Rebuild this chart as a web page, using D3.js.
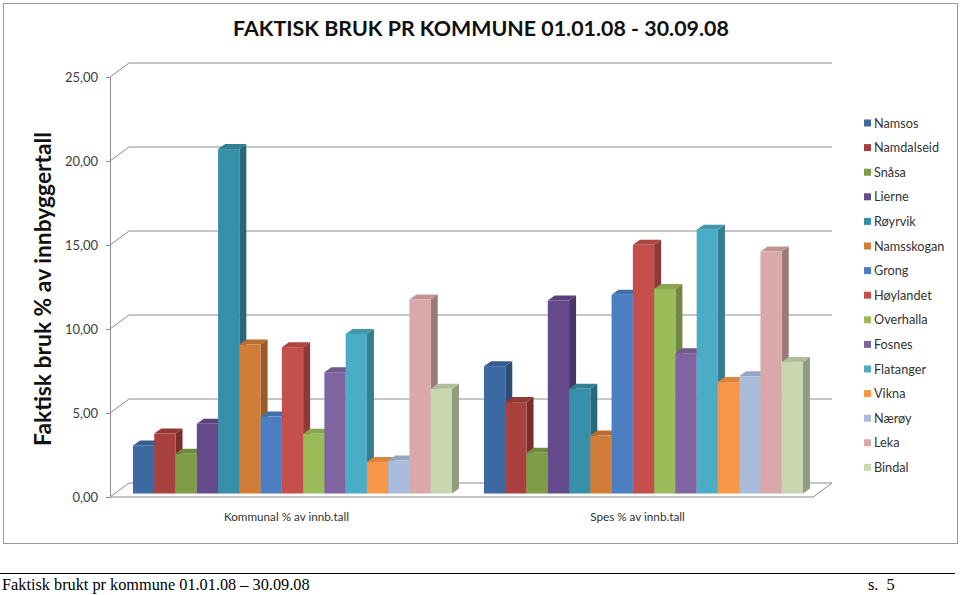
<!DOCTYPE html>
<html>
<head>
<meta charset="utf-8">
<script src="https://cdn.jsdelivr.net/npm/d3@7"></script>
<style>
  body { margin: 0; background: #fff; }
  svg { display: block; }
</style>
</head>
<body>
<svg width="960" height="595"></svg>
<script>
// data
var categories = ["Kommunal % av innb.tall", "Spes % av innb.tall"];
var kommuner = ["Namsos", "Namdalseid", "Snåsa", "Lierne", "Røyrvik", "Namsskogan", "Grong",
  "Høylandet", "Overhalla", "Fosnes", "Flatanger", "Vikna", "Nærøy", "Leka", "Bindal"];
var kommunal = [2.86, 3.57, 2.36, 4.15, 20.5, 8.87, 4.58, 8.71, 3.55, 7.22, 9.5, 1.87, 1.96, 11.55, 6.23];
var spes = [7.58, 5.44, 2.42, 11.49, 6.23, 3.45, 11.83, 14.8, 12.18, 8.35, 15.7, 6.63, 6.98, 14.4, 7.82];
var yTicks = [0, 5, 10, 15, 20, 25];
var colors = ["#3d69a3", "#a8403d", "#7e9d46", "#654b8c", "#3690a9", "#d17d37", "#4a7ec0",
  "#c44f4c", "#9bbb59", "#8064a2", "#4bacc6", "#f79646", "#a9bcdb", "#d9a8a8", "#c9d7ae"];

var seriesVals = [kommunal, spes];

var svg = d3.select("svg");
var font = "Lato, 'Open Sans', sans-serif";

// frame
svg.append("rect")
  .attr("x", 3.5).attr("y", 3.5).attr("width", 954).attr("height", 540)
  .attr("fill", "#fff").attr("stroke", "#9a9a9a");

// depth of walls and bars
var wdx = 19, wdy = -14;
var bdx = 7, bdy = -5;

var yFront = d3.scaleLinear().domain([0, 25]).range([497, 77]);
var yBack = d3.scaleLinear().domain([0, 25]).range([497 + wdy, 77 + wdy]);
var yBar = d3.scaleLinear().domain([0, 25]).range([493.5, 73.5]);

var x0 = d3.scaleBand().domain(categories).range([117, 819])
  .paddingInner(0.0912).paddingOuter(0.0456);
var x1 = d3.scaleBand().domain(kommuner).range([0, x0.bandwidth()]);

var axisLeftX = 110, wallRight = 832;
var grid = "#8c8c8c";

// back gridlines and side-wall diagonals
var g = svg.append("g");
yTicks.forEach(function(v) {
  g.append("line")
    .attr("x1", axisLeftX + wdx).attr("x2", wallRight)
    .attr("y1", yBack(v)).attr("y2", yBack(v))
    .attr("stroke", grid).attr("stroke-width", 1);
  g.append("line")
    .attr("x1", axisLeftX).attr("y1", yFront(v))
    .attr("x2", axisLeftX + wdx).attr("y2", yBack(v))
    .attr("stroke", grid).attr("stroke-width", 1);
});
// floor front edge
g.append("path")
  .attr("d", "M" + axisLeftX + "," + yFront(0) + "H" + (wallRight - wdx) +
    "L" + wallRight + "," + yBack(0))
  .attr("fill", "none").attr("stroke", grid);

// value axis
var loc = d3.formatLocale({decimal: ",", thousands: " ", grouping: [3], currency: ["", ""]});
var ax = svg.append("g")
  .attr("transform", "translate(" + axisLeftX + ",0)")
  .call(d3.axisLeft(yFront).tickValues(yTicks).tickFormat(loc.format(".2f"))
    .tickSizeInner(4).tickSizeOuter(0).tickPadding(8));
ax.select(".domain").attr("stroke", grid);
ax.selectAll(".tick line").attr("stroke", grid);
ax.selectAll(".tick text").attr("fill", "#404040")
  .style("font-family", font).style("font-size", "13px");

// 3D bars
var bars = svg.append("g");
categories.forEach(function(cat, ci) {
  kommuner.forEach(function(k, i) {
    var v = seriesVals[ci][i];
    var x = x0(cat) + x1(k), w = x1.bandwidth();
    var yt = yBar(v), yb = yBar(0);
    var c = d3.color(colors[i]);
    bars.append("path")
      .attr("d", "M" + (x + w) + "," + yt + "L" + (x + w + bdx) + "," + (yt + bdy) +
        "L" + (x + w + bdx) + "," + (yb + bdy) + "L" + (x + w) + "," + yb + "Z")
      .attr("fill", c.darker(0.9));
    bars.append("path")
      .attr("d", "M" + x + "," + yt + "L" + (x + bdx) + "," + (yt + bdy) +
        "L" + (x + w + bdx) + "," + (yt + bdy) + "L" + (x + w) + "," + yt + "Z")
      .attr("fill", c.darker(0.35));
    bars.append("rect")
      .attr("x", x).attr("y", yt).attr("width", w).attr("height", yb - yt)
      .attr("fill", colors[i]);
  });
});

// category labels
svg.append("g").selectAll("text").data(categories).join("text")
  .attr("x", function(d) { return x0(d) + x0.bandwidth() / 2 - 6; })
  .attr("y", 521)
  .attr("text-anchor", "middle")
  .attr("fill", "#333")
  .style("font-family", font).style("font-size", "11.7px")
  .text(function(d) { return d; });

// title
svg.append("text")
  .attr("x", 481).attr("y", 36).attr("text-anchor", "middle")
  .attr("fill", "#111")
  .style("font-family", font).style("font-size", "21.4px").style("font-weight", "bold")
  .text("FAKTISK BRUK PR KOMMUNE 01.01.08 - 30.09.08");

// y-axis title
svg.append("text")
  .attr("transform", "translate(51,289) rotate(-90)")
  .attr("text-anchor", "middle")
  .attr("fill", "#111")
  .style("font-family", font).style("font-size", "22.8px").style("font-weight", "bold")
  .text("Faktisk bruk % av innbyggertall");

// legend
var leg = svg.append("g").selectAll("g").data(kommuner).join("g")
  .attr("transform", function(d, i) { return "translate(864," + (123 + i * 24.6) + ")"; });
leg.append("rect").attr("x", 0).attr("y", -3.5).attr("width", 7).attr("height", 7)
  .attr("fill", function(d, i) { return colors[i]; });
leg.append("text").attr("x", 10).attr("y", 4.5)
  .attr("fill", "#333")
  .style("font-family", font).style("font-size", "12.7px")
  .text(function(d) { return d; });

// page footer
svg.append("line").attr("x1", 0).attr("x2", 955).attr("y1", 573.5).attr("y2", 573.5)
  .attr("stroke", "#000").attr("stroke-width", 1.2);
svg.append("text").attr("x", 2).attr("y", 590)
  .style("font-family", "'Liberation Serif', 'Times New Roman', serif").style("font-size", "16.3px")
  .text("Faktisk brukt pr kommune 01.01.08 – 30.09.08");
svg.append("text").attr("x", 868).attr("y", 590)
  .attr("xml:space", "preserve")
  .style("font-family", "'Liberation Serif', 'Times New Roman', serif").style("font-size", "16.3px")
  .style("white-space", "pre")
  .text("s.  5");
</script>
</body>
</html>
